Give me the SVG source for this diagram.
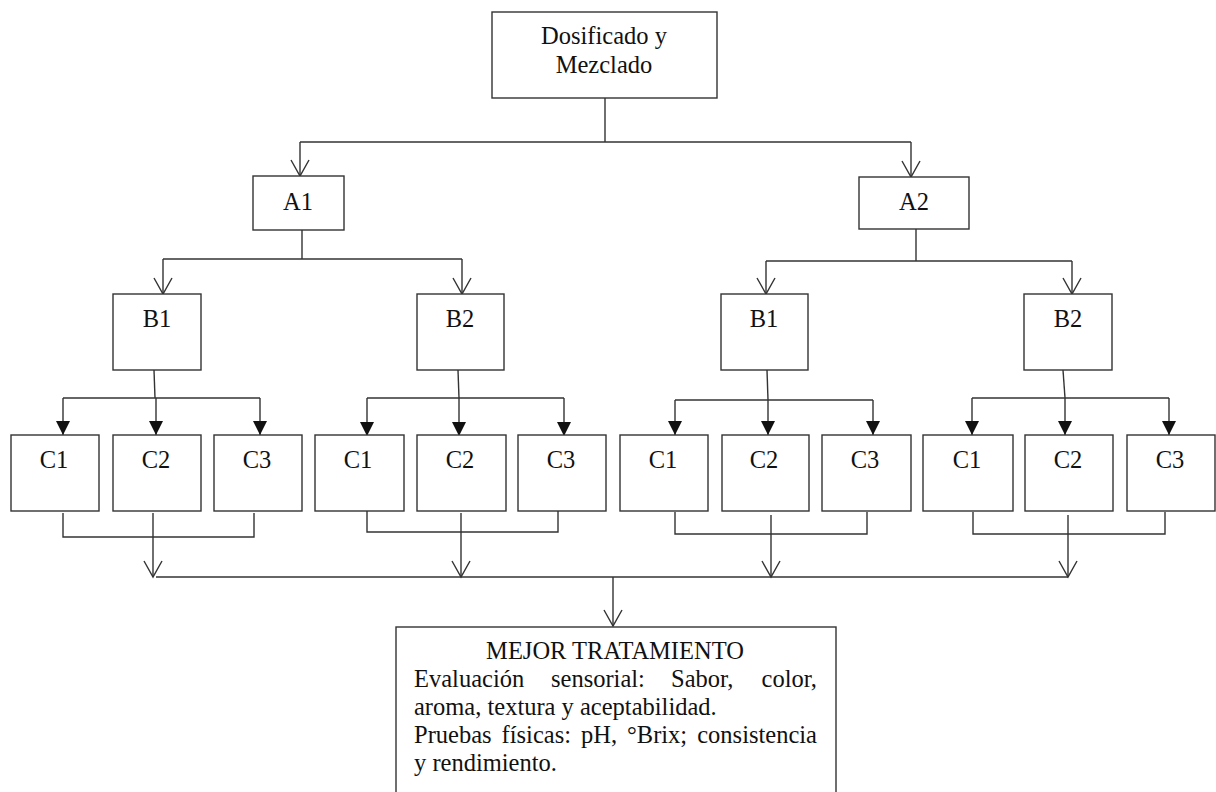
<svg xmlns="http://www.w3.org/2000/svg" width="1216" height="792" viewBox="0 0 1216 792">
<style>
  .box { fill: #fff; stroke: #333; stroke-width: 1.4; }
  .lbl { font-family: "Liberation Serif", "Times New Roman", serif; font-size: 24.5px; fill: #111; text-anchor: middle; }
  .txt { font-family: "Liberation Serif", "Times New Roman", serif; font-size: 24.5px; fill: #111; }
  .ln { stroke: #333; stroke-width: 1.4; fill: none; }
  .oa { marker-end: url(#open); }
  .fa { marker-end: url(#filled); }
</style>
<defs>
  <marker id="open" markerUnits="userSpaceOnUse" markerWidth="40" markerHeight="40" viewBox="-20 -20 40 40" refX="0" refY="0" orient="auto">
    <path d="M-16,-9 L0,0 L-16,9" fill="none" stroke="#333" stroke-width="1.4"/>
  </marker>
  <marker id="filled" markerUnits="userSpaceOnUse" markerWidth="40" markerHeight="40" viewBox="-20 -20 40 40" refX="0" refY="0" orient="auto">
    <path d="M-14,-7 L0,0 L-14,7 Z" fill="#111" stroke="none"/>
  </marker>
</defs>

<g id="connectors">
  <!-- top -->
  <line class="ln" x1="605" y1="98" x2="605" y2="142"/>
  <line class="ln" x1="300" y1="142" x2="911" y2="142"/>
  <line class="ln oa" x1="300" y1="142" x2="300" y2="176"/>
  <line class="ln oa" x1="911" y1="142" x2="911" y2="177"/>
  <!-- A1 -->
  <line class="ln" x1="302" y1="230" x2="302" y2="259"/>
  <line class="ln" x1="163" y1="259" x2="462" y2="259"/>
  <line class="ln oa" x1="163" y1="259" x2="163" y2="294"/>
  <line class="ln oa" x1="462" y1="259" x2="462" y2="294"/>
  <!-- A2 -->
  <line class="ln" x1="916" y1="229" x2="916" y2="261"/>
  <line class="ln" x1="766" y1="261" x2="1072" y2="261"/>
  <line class="ln oa" x1="766" y1="261" x2="766" y2="294"/>
  <line class="ln oa" x1="1072" y1="261" x2="1072" y2="294"/>
  <!-- B1 (A1) -->
  <line class="ln" x1="154" y1="370" x2="155" y2="398"/>
  <line class="ln" x1="63" y1="398" x2="260" y2="398"/>
  <line class="ln fa" x1="63" y1="398" x2="63" y2="435"/>
  <line class="ln fa" x1="156" y1="398" x2="156" y2="435"/>
  <line class="ln fa" x1="260" y1="398" x2="260" y2="435"/>
  <!-- B2 (A1) -->
  <line class="ln" x1="458" y1="370" x2="459" y2="398"/>
  <line class="ln" x1="367" y1="398" x2="564" y2="398"/>
  <line class="ln fa" x1="367" y1="398" x2="367" y2="436"/>
  <line class="ln fa" x1="459" y1="398" x2="459" y2="436"/>
  <line class="ln fa" x1="564" y1="398" x2="564" y2="436"/>
  <!-- B1 (A2) -->
  <line class="ln" x1="767" y1="370" x2="768" y2="400"/>
  <line class="ln" x1="675" y1="400" x2="873" y2="400"/>
  <line class="ln fa" x1="675" y1="400" x2="675" y2="435"/>
  <line class="ln fa" x1="768" y1="400" x2="768" y2="435"/>
  <line class="ln fa" x1="873" y1="400" x2="873" y2="435"/>
  <!-- B2 (A2) -->
  <line class="ln" x1="1063" y1="370" x2="1065" y2="398"/>
  <line class="ln" x1="972" y1="398" x2="1169" y2="398"/>
  <line class="ln fa" x1="972" y1="398" x2="972" y2="435"/>
  <line class="ln fa" x1="1065" y1="398" x2="1065" y2="435"/>
  <line class="ln fa" x1="1169" y1="398" x2="1169" y2="435"/>
  <!-- merges -->
  <polyline class="ln" points="63,513 63,537 254,537 254,513"/>
  <line class="ln oa" x1="153" y1="513" x2="153" y2="577"/>
  <polyline class="ln" points="367,511 367,532 558,532 558,511"/>
  <line class="ln oa" x1="461" y1="513" x2="461" y2="577"/>
  <polyline class="ln" points="675,512 675,534 867,534 867,512"/>
  <line class="ln oa" x1="771" y1="515" x2="771" y2="577"/>
  <polyline class="ln" points="973,512 973,534 1165,534 1165,512"/>
  <line class="ln oa" x1="1068" y1="515" x2="1068" y2="577"/>
  <line class="ln" x1="156" y1="577" x2="1068" y2="577"/>
  <line class="ln oa" x1="613" y1="577" x2="613" y2="626"/>
</g>

<g id="n-top">
  <rect class="box" x="492" y="12" width="225" height="86"/>
  <text class="lbl" x="604" y="44" font-size="25">Dosificado y</text>
  <text class="lbl" x="604" y="73" font-size="25">Mezclado</text>
</g>
<g id="n-a1">
  <rect class="box" x="253" y="176" width="91" height="54"/>
  <text class="lbl" x="298" y="210">A1</text>
</g>
<g id="n-a2">
  <rect class="box" x="859" y="177" width="110" height="52"/>
  <text class="lbl" x="914" y="210">A2</text>
</g>
<g id="n-a1-b1">
  <rect class="box" x="113" y="294" width="88" height="76"/>
  <text class="lbl" x="157" y="327">B1</text>
</g>
<g id="n-a1-b2">
  <rect class="box" x="417" y="294" width="87" height="76"/>
  <text class="lbl" x="460" y="327">B2</text>
</g>
<g id="n-a2-b1">
  <rect class="box" x="721" y="294" width="87" height="76"/>
  <text class="lbl" x="764" y="327">B1</text>
</g>
<g id="n-a2-b2">
  <rect class="box" x="1024" y="294" width="88" height="76"/>
  <text class="lbl" x="1068" y="327">B2</text>
</g>

<g id="n-a1-b1-c1"><rect class="box" x="11" y="435" width="88" height="76"/><text class="lbl" x="54" y="468">C1</text></g>
<g id="n-a1-b1-c2"><rect class="box" x="113" y="435" width="88" height="76"/><text class="lbl" x="156" y="468">C2</text></g>
<g id="n-a1-b1-c3"><rect class="box" x="214" y="435" width="88" height="76"/><text class="lbl" x="257" y="468">C3</text></g>

<g id="n-a1-b2-c1"><rect class="box" x="315" y="435" width="89" height="76"/><text class="lbl" x="358" y="468">C1</text></g>
<g id="n-a1-b2-c2"><rect class="box" x="417" y="435" width="89" height="76"/><text class="lbl" x="460" y="468">C2</text></g>
<g id="n-a1-b2-c3"><rect class="box" x="518" y="435" width="88" height="76"/><text class="lbl" x="561" y="468">C3</text></g>

<g id="n-a2-b1-c1"><rect class="box" x="620" y="435" width="88" height="76"/><text class="lbl" x="663" y="468">C1</text></g>
<g id="n-a2-b1-c2"><rect class="box" x="722" y="435" width="87" height="76"/><text class="lbl" x="764" y="468">C2</text></g>
<g id="n-a2-b1-c3"><rect class="box" x="822" y="435" width="89" height="76"/><text class="lbl" x="865" y="468">C3</text></g>

<g id="n-a2-b2-c1"><rect class="box" x="923" y="435" width="90" height="76"/><text class="lbl" x="967" y="468">C1</text></g>
<g id="n-a2-b2-c2"><rect class="box" x="1025" y="435" width="88" height="76"/><text class="lbl" x="1068" y="468">C2</text></g>
<g id="n-a2-b2-c3"><rect class="box" x="1127" y="435" width="88" height="76"/><text class="lbl" x="1170" y="468">C3</text></g>

<g id="n-best">
  <rect class="box" x="396" y="627" width="440" height="180"/>
  <text class="lbl" x="615" y="659">MEJOR TRATAMIENTO</text>
  <text class="txt" y="687"><tspan x="414">Evaluación</tspan><tspan x="551">sensorial:</tspan><tspan x="671">Sabor,</tspan><tspan x="817" text-anchor="end">color,</tspan></text>
  <text class="txt" x="414" y="715">aroma, textura y aceptabilidad.</text>
  <text class="txt" y="743"><tspan x="414">Pruebas</tspan><tspan x="501.6">físicas:</tspan><tspan x="581">pH,</tspan><tspan x="627">°Brix;</tspan><tspan x="817" text-anchor="end">consistencia</tspan></text>
  <text class="txt" x="414" y="771">y rendimiento.</text>
</g>
</svg>
